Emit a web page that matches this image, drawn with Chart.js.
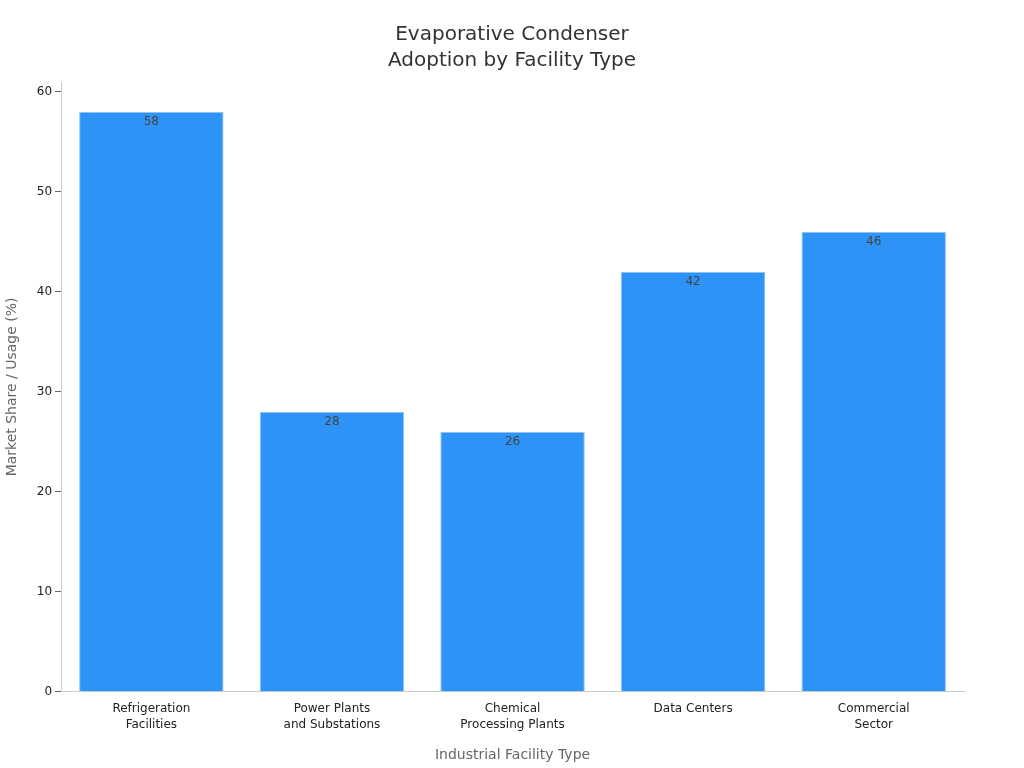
<!DOCTYPE html>
<html>
<head>
<meta charset="utf-8">
<script src="https://cdn.jsdelivr.net/npm/chart.js@4"></script>
<style>
  html, body { margin: 0; padding: 0; background: #fff; }
  #wrap { width: 1024px; height: 768px; }
</style>
</head>
<body>
<div id="wrap"><canvas id="chart"></canvas></div>
<script>
const categories = [["Refrigeration", "Facilities"], ["Power Plants", "and Substations"], ["Chemical", "Processing Plants"], ["Data Centers"], ["Commercial", "Sector"]];
const shares = [58, 28, 26, 42, 46];
const yTicks = [0, 10, 20, 30, 40, 50, 60];

// value labels just inside the top of each bar
const valueLabels = {
    id: "valueLabels",
    afterDatasetsDraw(chart) {
        const ctx = chart.ctx;
        const meta = chart.getDatasetMeta(0);
        ctx.save();
        ctx.font = "12px 'DejaVu Sans'";
        ctx.fillStyle = "#444";
        ctx.textAlign = "center";
        ctx.textBaseline = "top";
        meta.data.forEach((bar, i) => {
            ctx.fillText(shares[i], bar.x, bar.y + 4);
        });
        ctx.restore();
    }
};

new Chart(document.getElementById("chart"), {
    type: "bar",
    data: {
        labels: categories,
        datasets: [{
            data: shares,
            backgroundColor: "#2e93f7",
            borderColor: "#8cc4f7",
            borderWidth: 1,
            barPercentage: 0.8,
            categoryPercentage: 1
        }]
    },
    options: {
        responsive: true,
        maintainAspectRatio: false,
        animation: false,
        layout: { padding: { left: 0, right: 0, top: 10, bottom: 0 } },
        plugins: {
            legend: { display: false },
            tooltip: { enabled: false },
            title: {
                display: true,
                text: ["Evaporative Condenser", "Adoption by Facility Type"],
                color: "#333",
                font: { family: "DejaVu Sans", size: 20, weight: "normal", lineHeight: 1.3 },
                padding: { top: 12, bottom: 8 }
            }
        },
        scales: {
            x: {
                grid: { display: false, drawTicks: false },
                border: { color: "#ccc" },
                ticks: { color: "#222", font: { family: "DejaVu Sans", size: 12, lineHeight: 1.35 }, padding: 9 },
                title: { display: true, text: "Industrial Facility Type", color: "#666", font: { family: "DejaVu Sans", size: 14 }, padding: { top: 5 } }
            },
            y: {
                min: 0,
                max: 61,
                afterBuildTicks: axis => { axis.ticks = yTicks.map(v => ({ value: v })); },
                grid: { display: true, drawOnChartArea: false, drawTicks: true, tickLength: 6, color: "#666" },
                border: { color: "#ccc" },
                ticks: { color: "#222", font: { family: "DejaVu Sans", size: 12 }, padding: 3 },
                title: { display: true, text: "Market Share / Usage (%)", color: "#666", font: { family: "DejaVu Sans", size: 14 }, padding: { bottom: 13 } }
            },
            spacer: {
                position: "right",
                display: true,
                grid: { display: false, drawTicks: false },
                border: { display: false },
                ticks: { display: false },
                afterFit: axis => { axis.width = 60; }
            }
        }
    },
    plugins: [valueLabels]
});
</script>
</body>
</html>
